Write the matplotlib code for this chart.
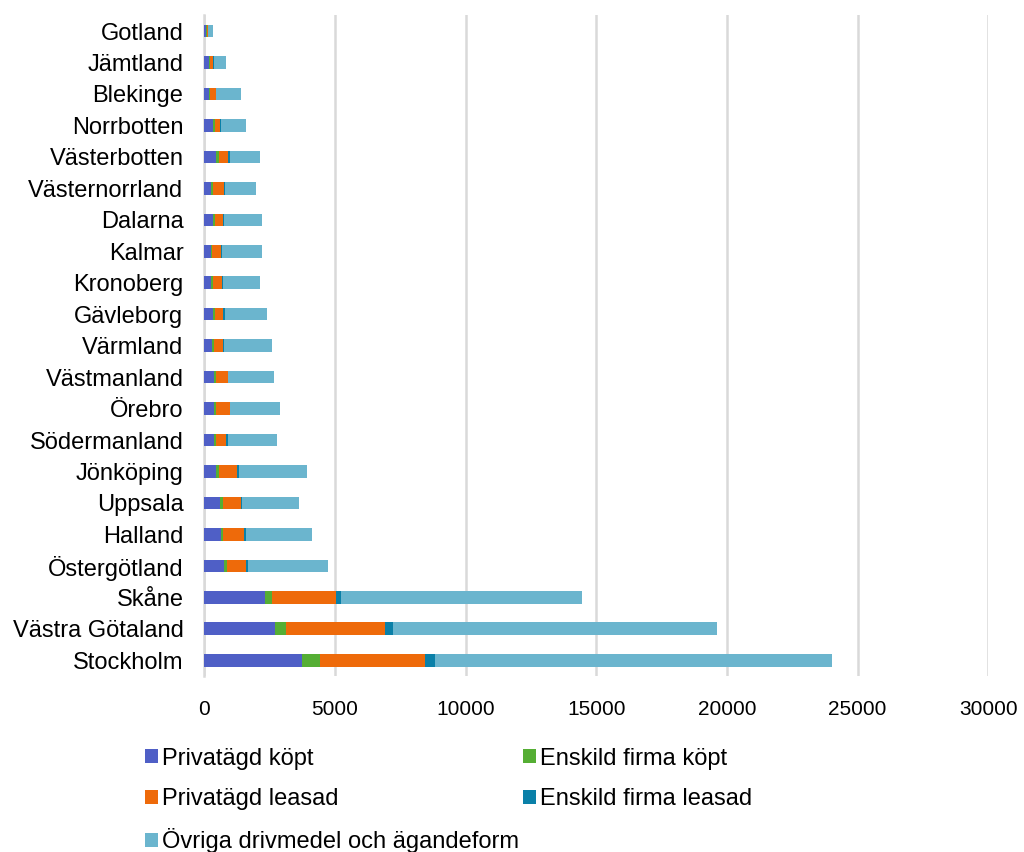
import matplotlib
matplotlib.use("Agg")
import matplotlib.pyplot as plt
from matplotlib.patches import Patch
import numpy as np

plt.rcParams['font.family'] = ['Liberation Sans', 'DejaVu Sans']

# Counties, bottom to top
counties = ["Stockholm", "Västra Götaland", "Skåne", "Östergötland", "Halland",
            "Uppsala", "Jönköping", "Södermanland", "Örebro", "Västmanland",
            "Värmland", "Gävleborg", "Kronoberg", "Kalmar", "Dalarna",
            "Västernorrland", "Västerbotten", "Norrbotten", "Blekinge",
            "Jämtland", "Gotland"]

privat_kopt = [3740, 2710, 2320, 760, 630, 620, 430, 360, 380, 380,
               300, 320, 250, 250, 320, 250, 440, 320, 170, 170, 60]
enskild_kopt = [670, 400, 270, 100, 100, 90, 150, 80, 80, 80,
                80, 80, 100, 60, 100, 90, 140, 100, 40, 50, 40]
privat_leasad = [4040, 3800, 2450, 740, 800, 680, 660, 410, 510, 430,
                 330, 330, 310, 330, 290, 420, 330, 200, 230, 130, 40]
enskild_leasad = [370, 330, 190, 60, 80, 50, 80, 40, 30, 15,
                  40, 50, 50, 50, 40, 40, 60, 25, 15, 25, 5]
ovriga = [15200, 12400, 9210, 3070, 2510, 2190, 2610, 1900, 1890, 1770,
          1860, 1620, 1430, 1530, 1440, 1190, 1180, 970, 960, 450, 190]

series = [
    ("Privatägd köpt", privat_kopt, "#4f5fc6"),
    ("Enskild firma köpt", enskild_kopt, "#55ae34"),
    ("Privatägd leasad", privat_leasad, "#ee6a0a"),
    ("Enskild firma leasad", enskild_leasad, "#0a80a8"),
    ("Övriga drivmedel och ägandeform", ovriga, "#6bb5ce"),
]

fig = plt.figure(figsize=(10.24, 8.52), dpi=100)
ax = fig.add_axes([0.1995, 0.2066, 0.7655, 0.7754])

y = np.arange(len(counties))
left = np.zeros(len(counties))
handles = {}
for name, vals, color in series:
    vals = np.array(vals, dtype=float)
    ax.barh(y, vals, left=left, height=0.4, color=color, edgecolor="none", zorder=3)
    left += vals
    handles[name] = Patch(facecolor=color, edgecolor="none", label=name)

ax.set_xlim(0, 30000)
ax.set_ylim(-0.5, len(counties) - 0.5)
ax.set_xticks(np.arange(0, 30001, 5000))
ax.set_yticks(y)
ax.set_yticklabels(counties, fontsize=17)
ax.tick_params(axis="both", length=0, colors="#000000")
ax.tick_params(axis="x", pad=17, labelsize=15)
ax.tick_params(axis="y", pad=15)
ax.grid(axis="x", color="#d9d9d9", linewidth=1.8, zorder=0)
for side in ["top", "right", "bottom"]:
    ax.spines[side].set_visible(False)
ax.spines["left"].set_color("#d9d9d9")
ax.spines["left"].set_linewidth(1.8)

order = ["Privatägd köpt", "Privatägd leasad", "Övriga drivmedel och ägandeform",
         "Enskild firma köpt", "Enskild firma leasad"]
fig.legend(handles=[handles[n] for n in order], loc="upper left",
           bbox_to_anchor=(0.1416, 0.1225), ncol=2, frameon=False,
           fontsize=17, handlelength=0.55, handleheight=0.55,
           handletextpad=0.17, labelspacing=0.78, columnspacing=0.18,
           borderaxespad=0, borderpad=0)

fig.savefig("out.png", dpi=100)
